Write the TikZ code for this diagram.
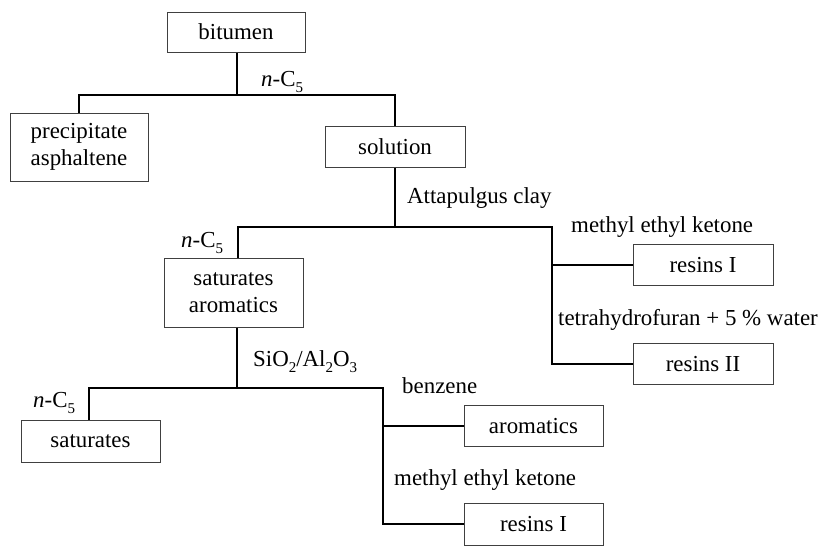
\documentclass[tikz,border=0pt]{standalone}
\usepackage{fontspec}
\setmainfont{Liberation Serif}
\newcommand{\mysub}[1]{\raisebox{-0.28em}{\fontsize{15}{15}\selectfont #1}}
\begin{document}
\begin{tikzpicture}[x=1pt,y=-1pt,
  box/.style={draw=black!75,line width=1pt,inner sep=0pt,align=center,
    font=\fontsize{22.9}{27}\selectfont},
  conn/.style={draw=black,line width=1.6pt},
  lab/.style={anchor=base west,inner sep=0pt,font=\fontsize{22.9}{27}\selectfont}]
\useasboundingbox (0,0) rectangle (821,546);
% boxes
\node[box,minimum width=138pt,minimum height=40pt] (bitumen) at (236,32) {bitumen};
\node[box,minimum width=138pt,minimum height=68pt] (precip) at (79,147) {precipitate\\asphaltene};
\node[box,minimum width=140pt,minimum height=41pt] (solution) at (395,146.5) {solution};
\node[box,minimum width=139pt,minimum height=69pt] (satarom) at (233.5,292.5) {saturates\\aromatics};
\node[box,minimum width=139pt,minimum height=42pt] (saturates) at (90.5,441) {saturates};
\node[box,minimum width=139pt,minimum height=41pt] (aromatics) at (533.5,426) {aromatics};
\node[box,minimum width=139pt,minimum height=42pt] (resinsIb) at (533.5,524) {resins I};
\node[box,minimum width=140pt,minimum height=41pt] (resinsI) at (703,265) {resins I};
\node[box,minimum width=140pt,minimum height=41pt] (resinsII) at (703,364) {resins II};
% junctions
\coordinate (j1) at (237,95);
\coordinate (j2) at (395,227);
\coordinate (j2l) at (238,227);
\coordinate (j2r) at (552,227);
\coordinate (j3) at (237,388);
\coordinate (j3l) at (89,388);
\coordinate (j3r) at (383,388);
% connectors
\draw[conn] (bitumen.south -| j1) -- (j1);
\draw[conn] (precip.north) -- (precip.north |- j1) -- (solution.north |- j1) -- (solution.north);
\draw[conn] (solution.south) -- (j2);
\draw[conn] (satarom.north -| j2l) -- (j2l) -- (j2r) -- (j2r |- resinsII.west) -- (resinsII.west);
\draw[conn] (j2r |- resinsI.west) -- (resinsI.west);
\draw[conn] (satarom.south -| j3) -- (j3);
\draw[conn] (saturates.north -| j3l) -- (j3l) -- (j3r) -- (j3r |- resinsIb.west) -- (resinsIb.west);
\draw[conn] (j3r |- aromatics.west) -- (aromatics.west);
% labels
\node[lab] (l1) at (261,86) {\textit{n}-C\mysub{5}};
\node[lab] (l2) at (407,203) {Attapulgus clay};
\node[lab] (l3) at (181,247) {\textit{n}-C\mysub{5}};
\node[lab] (l4) at (253,366) {SiO\mysub{2}/Al\mysub{2}O\mysub{3}};
\node[lab] (l5) at (33,407) {\textit{n}-C\mysub{5}};
\node[lab] (l6) at (402,393) {benzene};
\node[lab] (l7) at (394,485) {methyl ethyl ketone};
\node[lab] (l8) at (571,232) {methyl ethyl ketone};
\node[lab] (l9) at (558,325) {tetrahydrofuran + 5 \% water};
\end{tikzpicture}
\end{document}
